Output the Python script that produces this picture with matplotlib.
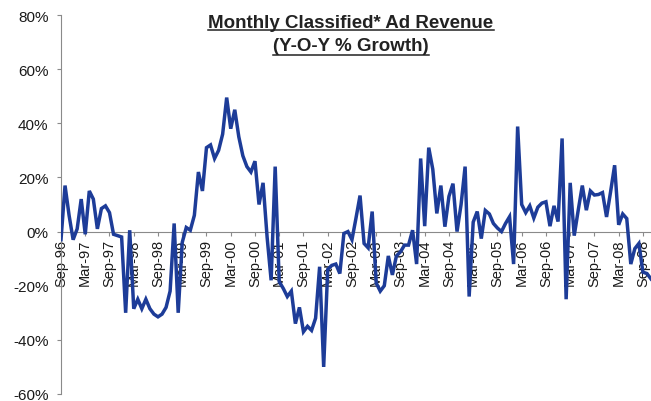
import matplotlib
matplotlib.use("Agg")
import matplotlib.pyplot as plt
from matplotlib.lines import Line2D
import numpy as np

plt.rcParams['font.family'] = ['Liberation Sans', 'DejaVu Sans']

# monthly Y-o-Y growth (%), Sep-96 .. Nov-08
growth = [
    -3, 17, 6, -3, 1, 12, -1, 15, 12, 1, 8.5, 9.5,            # Sep-96 .. Aug-97
    7, -1, -1.5, -2, -30, 0.5, -28.5, -25, -28.5, -25, -28.5, -30.5,   # Sep-97 .. Aug-98
    -31.5, -30.5, -28, -22, 3, -30, -4, 1.5, 0.5, 6, 22, 15,  # Sep-98 .. Aug-99
    31, 32, 27, 30, 36, 49.5, 38, 45, 35, 28, 24, 22,         # Sep-99 .. Aug-00
    26, 10, 18, -2, -18, 24, -18.5, -21, -24, -22, -34, -28,  # Sep-00 .. Aug-01
    -37, -35, -36.5, -32, -13, -50, -14, -12.5, -12, -15.5, -0.7, 0,  # Sep-01 .. Aug-02
    -3, 5, 13.3, -4.4, -6, 7.4, -19, -22, -20, -9, -16, -9,   # Sep-02 .. Aug-03
    -7.5, -5, -5, 0.5, -12, 27, 2, 31, 23, 6.7, 17, 1.8,      # Sep-03 .. Aug-04
    13, 17.7, 0, 10, 24, -24, 3.5, 7.4, -2.6, 7.8, 6.5, 3,    # Sep-04 .. Aug-05
    1.3, 0, 3, 5.5, -12, 38.8, 10, 7, 9.5, 5, 9, 10.5,        # Sep-05 .. Aug-06
    11, 2, 9.5, 3.7, 34.4, -25, 18, -1.5, 8, 17, 7.9, 15,     # Sep-06 .. Aug-07
    13.5, 13.7, 14.4, 5.4, 14.7, 24.5, 2.5, 6.5, 4.8, -12, -6.3, -4.4,  # Sep-07 .. Aug-08
    -15, -15.5, -17.5,                                        # Sep-08 .. Nov-08
]
months = np.arange(len(growth))

xtick_labels = ['Sep-96', 'Mar-97', 'Sep-97', 'Mar-98', 'Sep-98', 'Mar-99',
                'Sep-99', 'Mar-00', 'Sep-00', 'Mar-01', 'Sep-01', 'Mar-02',
                'Sep-02', 'Mar-03', 'Sep-03', 'Mar-04', 'Sep-04', 'Mar-05',
                'Sep-05', 'Mar-06', 'Sep-06', 'Mar-07', 'Sep-07', 'Mar-08',
                'Sep-08']
yticks = [-60, -40, -20, 0, 20, 40, 60, 80]
ytick_labels = ['-60%', '-40%', '-20%', '0%', '20%', '40%', '60%', '80%']

W, H = 651, 402
fig = plt.figure(figsize=(W / 100, H / 100), dpi=100)
ax = fig.add_axes([61 / W, 7 / H, 590 / W, 379 / H])

ax.plot(months, growth, color='#1d3c98', linewidth=2.5, solid_joinstyle='miter',
        zorder=3)

ax.set_xlim(0, len(growth) - 1)
ax.set_ylim(-60, 80)
ax.set_axisbelow(True)

for side in ('top', 'right'):
    ax.spines[side].set_visible(False)
ax.spines['bottom'].set_position(('data', 0))
ax.spines['left'].set_color('#8a8a8a')
ax.spines['bottom'].set_color('#8a8a8a')

ax.set_xticks(np.arange(0, len(growth), 6))
ax.set_xticklabels(xtick_labels, rotation=90, va='top', ha='center',
                   fontsize=10.5, color='#1a1a1a')
ax.set_yticks(yticks)
ax.set_yticklabels(ytick_labels, fontsize=11, color='#1a1a1a')
ax.tick_params(axis='x', direction='out', length=3, width=0.8,
               color='#8a8a8a', pad=2)
ax.tick_params(axis='y', direction='out', length=3, width=0.8,
               color='#8a8a8a', pad=6)

# two line title, bold and underlined
xc = 351 / W
t1 = fig.text(xc, 1 - 28 / H, 'Monthly Classified* Ad Revenue', ha='center',
              va='baseline', fontsize=13.5, fontweight='bold', color='#222222')
t2 = fig.text(xc, 1 - 51 / H, '(Y-O-Y % Growth)', ha='center',
              va='baseline', fontsize=13.5, fontweight='bold', color='#222222')

fig.canvas.draw()
r = fig.canvas.get_renderer()
for t, uy in ((t1, 30.5), (t2, 55.5)):
    bb = t.get_window_extent(r)
    fig.add_artist(Line2D([bb.x0 / W, bb.x1 / W], [1 - uy / H, 1 - uy / H],
                          transform=fig.transFigure, color='#222222',
                          linewidth=1.1))

fig.savefig('out.png', dpi=100)
